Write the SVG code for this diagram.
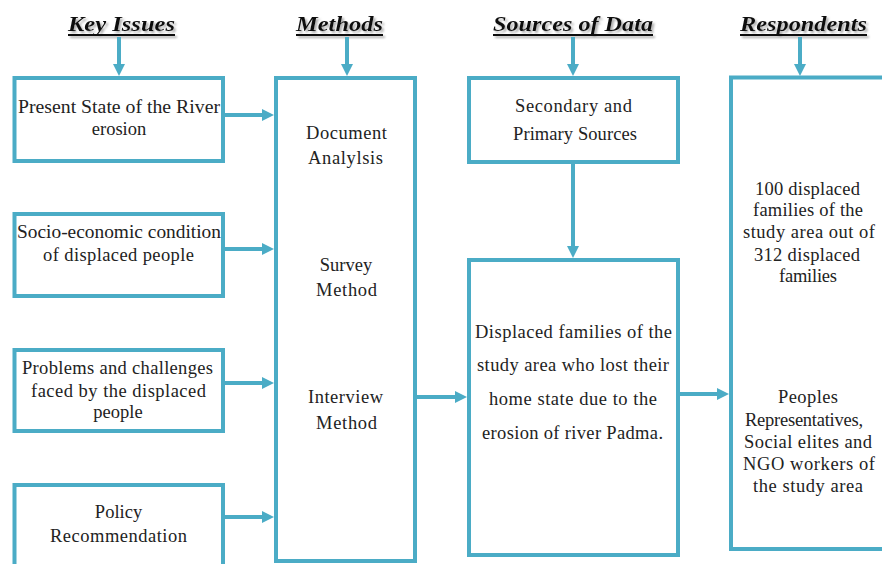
<svg xmlns="http://www.w3.org/2000/svg" width="882" height="564" viewBox="0 0 882 564">
  <style>
    .box { fill: #ffffff; stroke: #4bacc6; stroke-width: 4; }
    .wire { fill: none; stroke: #4bacc6; stroke-width: 4; marker-end: url(#head); }
    .t { font-family: "Liberation Serif", "Times New Roman", serif; font-size: 18.5px; fill: #222222; text-anchor: middle; }
    .h { font-family: "Liberation Serif", "Times New Roman", serif; font-size: 21px; font-weight: bold; font-style: italic; fill: #111111; text-anchor: middle; }
    .ul { stroke: #111111; stroke-width: 2; }
  </style>
  <defs>
    <marker id="head" markerUnits="userSpaceOnUse" markerWidth="12" markerHeight="12" refX="4" refY="6" orient="auto">
      <path d="M0,0 L12,6 L0,12 z" fill="#4bacc6"/>
    </marker>
    <filter id="shade" x="-10%" y="-30%" width="120%" height="160%">
      <feDropShadow dx="2" dy="2" stdDeviation="1" flood-color="#777777" flood-opacity="0.6"/>
    </filter>
  </defs>

  <rect width="882" height="564" fill="#ffffff"/>

  <!-- column headings -->
  <g id="heading-key-issues" filter="url(#shade)">
    <text class="h" x="121.5" y="31" textLength="107" lengthAdjust="spacingAndGlyphs">Key Issues</text>
    <line class="ul" x1="68" y1="35" x2="175" y2="35"/>
  </g>
  <g id="heading-methods" filter="url(#shade)">
    <text class="h" x="339.5" y="31" textLength="87" lengthAdjust="spacingAndGlyphs">Methods</text>
    <line class="ul" x1="296" y1="35" x2="383" y2="35"/>
  </g>
  <g id="heading-sources" filter="url(#shade)">
    <text class="h" x="573" y="31" textLength="160" lengthAdjust="spacingAndGlyphs">Sources of Data</text>
    <line class="ul" x1="493" y1="35" x2="653" y2="35"/>
  </g>
  <g id="heading-respondents" filter="url(#shade)">
    <text class="h" x="803.5" y="31" textLength="127" lengthAdjust="spacingAndGlyphs">Respondents</text>
    <line class="ul" x1="740" y1="35" x2="867" y2="35"/>
  </g>

  <!-- connectors -->
  <g id="connectors">
    <line class="wire" x1="119" y1="37" x2="119" y2="68"/>
    <line class="wire" x1="347" y1="37" x2="347" y2="68"/>
    <line class="wire" x1="573" y1="37" x2="573" y2="68"/>
    <line class="wire" x1="800" y1="37" x2="800" y2="68"/>
    <line class="wire" x1="224" y1="115" x2="266" y2="115"/>
    <line class="wire" x1="224" y1="249" x2="266" y2="249"/>
    <line class="wire" x1="224" y1="383" x2="266" y2="383"/>
    <line class="wire" x1="224" y1="517" x2="266" y2="517"/>
    <line class="wire" x1="417" y1="397" x2="459" y2="397"/>
    <line class="wire" x1="573" y1="164" x2="573" y2="250"/>
    <line class="wire" x1="680" y1="394" x2="721" y2="394"/>
  </g>

  <!-- key issues -->
  <g id="issue-river">
    <rect class="box" x="14.5" y="78" width="208.5" height="83"/>
    <text class="t" x="119" y="113" textLength="202" lengthAdjust="spacingAndGlyphs">Present State of the River</text>
    <text class="t" x="119" y="135">erosion</text>
  </g>
  <g id="issue-socio">
    <rect class="box" x="14.5" y="214" width="208.5" height="82"/>
    <text class="t" x="119" y="238" textLength="204" lengthAdjust="spacingAndGlyphs">Socio-economic condition</text>
    <text class="t" x="118.5" y="261" textLength="151">of displaced people</text>
  </g>
  <g id="issue-problems">
    <rect class="box" x="14.5" y="350" width="208.5" height="81"/>
    <text class="t" x="117.5" y="374" textLength="191">Problems and challenges</text>
    <text class="t" x="118.5" y="397" textLength="175">faced by the displaced</text>
    <text class="t" x="118" y="418">people</text>
  </g>
  <g id="issue-policy">
    <rect class="box" x="14.5" y="485" width="208.5" height="100"/>
    <text class="t" x="118.5" y="518">Policy</text>
    <text class="t" x="118.5" y="542" textLength="137">Recommendation</text>
  </g>

  <!-- methods -->
  <g id="methods">
    <rect class="box" x="276" y="78" width="139" height="483"/>
    <text class="t" x="346.5" y="139" textLength="81">Document</text>
    <text class="t" x="345.5" y="164" textLength="75">Analylsis</text>
    <text class="t" x="346" y="271">Survey</text>
    <text class="t" x="346.5" y="296" textLength="61">Method</text>
    <text class="t" x="345.5" y="403" textLength="75">Interview</text>
    <text class="t" x="346.5" y="429" textLength="61">Method</text>
  </g>

  <!-- sources of data -->
  <g id="sources-primary">
    <rect class="box" x="469" y="78" width="209" height="84"/>
    <text class="t" x="573.5" y="112" textLength="117">Secondary and</text>
    <text class="t" x="575" y="140" textLength="124">Primary Sources</text>
  </g>
  <g id="sources-families">
    <rect class="box" x="469" y="260" width="209" height="295"/>
    <text class="t" x="573.5" y="338" textLength="197">Displaced families of the</text>
    <text class="t" x="573" y="371" textLength="192">study area who lost their</text>
    <text class="t" x="573" y="405" textLength="168">home state due to the</text>
    <text class="t" x="572.5" y="439" textLength="181">erosion of river Padma.</text>
  </g>

  <!-- respondents -->
  <g id="respondents">
    <rect class="box" x="731" y="77.5" width="200" height="471.5"/>
    <text class="t" x="807.5" y="195" textLength="105">100 displaced</text>
    <text class="t" x="808" y="216" textLength="110">families of the</text>
    <text class="t" x="809" y="238" textLength="132">study area out of</text>
    <text class="t" x="807" y="261" textLength="106">312 displaced</text>
    <text class="t" x="808" y="282" textLength="58">families</text>
    <text class="t" x="808" y="403" textLength="60">Peoples</text>
    <text class="t" x="804" y="426" textLength="118">Representatives,</text>
    <text class="t" x="808" y="448" textLength="128">Social elites and</text>
    <text class="t" x="809" y="470" textLength="132">NGO workers of</text>
    <text class="t" x="808" y="492" textLength="110">the study area</text>
  </g>
</svg>
